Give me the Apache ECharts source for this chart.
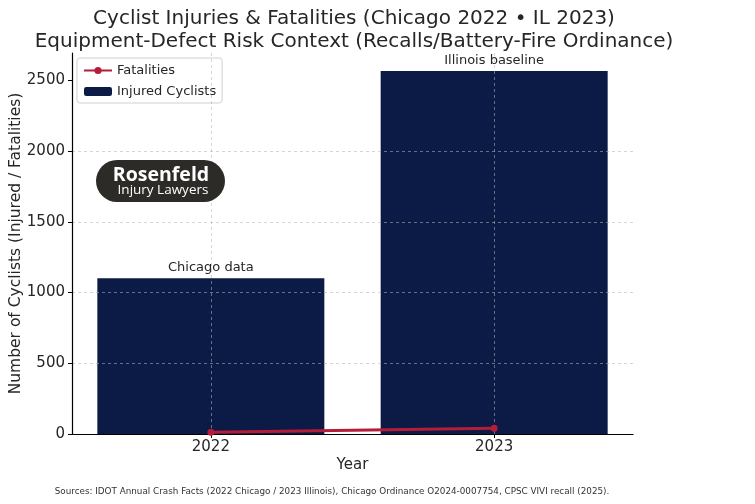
<!DOCTYPE html>
<html>
<head>
<meta charset="utf-8">
<script src="https://cdn.jsdelivr.net/npm/echarts@6/dist/echarts.min.js"></script>
<style>html,body{margin:0;padding:0;background:#fff}#c{width:755px;height:504px}</style>
</head>
<body>
<div id="c"></div>
<script>
const years = ['2022', '2023'];
const injured = [1100, 2565];
const fatalities = [12, 40];
const barNotes = ['Chicago data', 'Illinois baseline'];
const yTicks = [0, 500, 1000, 1500, 2000, 2500];
const xPos = [0, 1];

const chart = echarts.init(document.getElementById('c'), null, {renderer: 'canvas'});
const font = 'DejaVu Sans';
const option = {
  animation: false,
  textStyle: {fontFamily: font},
  title: {
    text: 'Cyclist Injuries & Fatalities (Chicago 2022 \u2022 IL 2023)\nEquipment-Defect Risk Context (Recalls/Battery-Fire Ordinance)',
    left: 349, top: 2, textAlign: 'center',
    textStyle: {fontFamily: font, fontSize: 20, fontWeight: 'normal', color: '#262626', lineHeight: 23}
  },
  grid: {left: 72, right: 122, top: 53, bottom: 70, outerBoundsMode: 'none', containLabel: false},
  legend: {
    orient: 'vertical', left: 77, top: 58,
    data: ['Fatalities', 'Injured Cyclists'],
    itemWidth: 28, itemHeight: 9, itemGap: 8,
    padding: [6, 6, 5, 6],
    borderColor: '#d0d0d0', borderWidth: 1, borderRadius: 3,
    backgroundColor: 'rgba(255,255,255,0.85)',
    textStyle: {fontFamily: font, fontSize: 13, color: '#262626'}
  },
  xAxis: {
    type: 'value', min: -0.49, max: 1.49,
    name: 'Year', nameLocation: 'middle', nameGap: 24, nameMoveOverlap: false,
    nameTextStyle: {fontFamily: font, fontSize: 15, color: '#262626'},
    axisLine: {show: true, onZero: false, lineStyle: {color: '#000', width: 1.2}},
    axisTick: {show: true, length: 4, customValues: xPos, lineStyle: {color: '#000'}},
    axisLabel: {customValues: xPos, margin: 6, fontFamily: font, fontSize: 15, color: '#262626',
      formatter: v => years[Math.round(v)]},
    splitLine: {show: false}
  },
  yAxis: {
    type: 'value', min: 0, max: 2693, z: 5,
    name: 'Number of Cyclists (Injured / Fatalities)', nameLocation: 'middle', nameGap: 48, nameMoveOverlap: false,
    nameTextStyle: {fontFamily: font, fontSize: 15.5, color: '#262626'},
    axisLine: {show: true, onZero: false, lineStyle: {color: '#000', width: 1.2}},
    axisTick: {show: true, length: 4, customValues: yTicks, lineStyle: {color: '#000'}},
    axisLabel: {customValues: yTicks, margin: 7, fontFamily: font, fontSize: 15, color: '#262626',
      formatter: v => String(v)},
    splitLine: {show: true, showMinLine: false, showMaxLine: false,
      lineStyle: {color: 'rgba(180,180,180,0.7)', type: [3, 3], width: 0.8}}
  },
  series: [
    {
      name: 'Injured Cyclists', type: 'bar', barWidth: 227, z: 2,
      data: xPos.map((x, i) => [x, injured[i]]),
      itemStyle: {color: '#0c1a46'},
      label: {show: true, position: 'top', distance: 4, fontFamily: font, fontSize: 13, color: '#262626',
        formatter: p => barNotes[p.dataIndex]},
      markLine: {
        silent: true, symbol: 'none', label: {show: false},
        lineStyle: {color: 'rgba(180,180,180,0.7)', type: [3, 3], width: 0.8},
        data: xPos.map(x => ({xAxis: x}))
      }
    },
    {
      name: 'Fatalities', type: 'line', z: 6,
      data: xPos.map((x, i) => [x, fatalities[i]]),
      symbol: 'circle', symbolSize: 7,
      lineStyle: {color: '#b51c3a', width: 3},
      itemStyle: {color: '#b51c3a'}
    }
  ],
  graphic: [
    {type: 'rect', x: 96, y: 160, shape: {width: 129, height: 42, r: 21},
      style: {fill: '#2c2b27'}, z: 20},
    {type: 'text', x: 161, y: 175, z: 21,
      style: {text: 'Rosenfeld', fill: '#fff', font: 'bold 19.5px "Open Sans"', align: 'center', verticalAlign: 'middle'}},
    {type: 'text', x: 163, y: 190, z: 21,
      style: {text: 'Injury Lawyers', fill: '#fff', font: '13.5px "Open Sans"', align: 'center', verticalAlign: 'middle'}},
    {type: 'text', x: 332, y: 492, z: 21,
      style: {text: 'Sources: IDOT Annual Crash Facts (2022 Chicago / 2023 Illinois), Chicago Ordinance O2024-0007754, CPSC VIVI recall (2025).',
        fill: '#333', font: '8.8px "DejaVu Sans"', align: 'center', verticalAlign: 'middle'}}
  ]
};
chart.setOption(option);
</script>
</body>
</html>
